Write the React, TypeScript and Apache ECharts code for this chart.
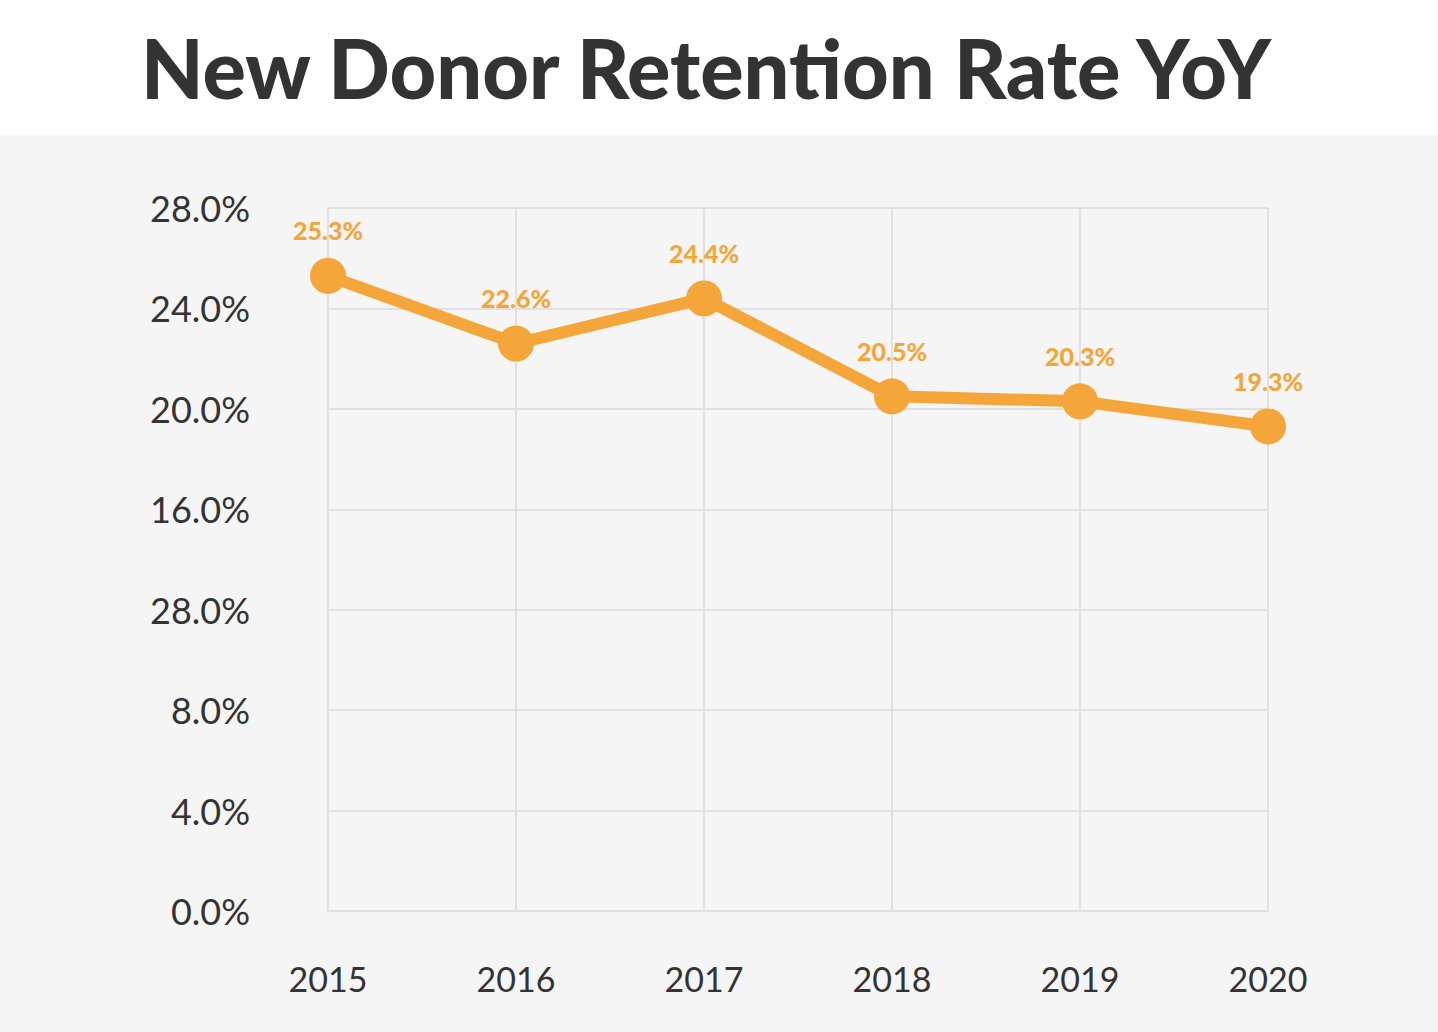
import React, { useEffect, useRef } from "react";
import * as echarts from "echarts";

const titleText = "New Donor Retention Rate YoY";
const years = ["2015", "2016", "2017", "2018", "2019", "2020"];
const retention = [25.3, 22.6, 24.4, 20.5, 20.3, 19.3];
const yTickLabels = ["0.0%", "4.0%", "8.0%", "28.0%", "16.0%", "20.0%", "24.0%", "28.0%"];

const ORANGE = "#F5A63B";
const DARK = "#333333";
const GRID = "#e0e0e0";
const FONT = "Lato, 'Open Sans', sans-serif";

export default function App() {
  const ref = useRef<HTMLDivElement>(null);
  useEffect(() => {
    if (!ref.current) return;
    const chart = echarts.init(ref.current, null, { renderer: "svg" });
    chart.setOption({
      animation: false,
      backgroundColor: "#ffffff",
      graphic: [
        {
          type: "rect",
          z: -10,
          silent: true,
          shape: { x: 0, y: 135, width: 1438, height: 1032 - 135 },
          style: { fill: "#f5f5f5" },
        },
        {
          type: "text",
          x: 706,
          y: 67,
          style: {
            text: titleText,
            fill: DARK,
            font: `900 81px ${FONT}`,
            textAlign: "center",
            textVerticalAlign: "middle",
          },
        },
      ],
      grid: { left: 328, right: 170, top: 208, bottom: 121, containLabel: false },
      xAxis: {
        type: "category",
        data: years,
        boundaryGap: false,
        axisLine: { show: true, lineStyle: { color: GRID, width: 2 } },
        axisTick: { show: false },
        splitLine: { show: true, lineStyle: { color: GRID, width: 2 } },
        axisLabel: { color: DARK, fontSize: 34, fontFamily: FONT, margin: 50 },
      },
      yAxis: {
        type: "value",
        min: 0,
        max: 28,
        interval: 4,
        axisLine: { show: false },
        axisTick: { show: false },
        splitLine: { show: true, lineStyle: { color: GRID, width: 2 } },
        axisLabel: {
          color: DARK,
          fontSize: 36,
          fontFamily: FONT,
          margin: 78,
          formatter: (v: number) => yTickLabels[Math.round(v / 4)] ?? "",
        },
      },
      series: [
        {
          type: "line",
          data: retention,
          symbol: "circle",
          symbolSize: 36,
          lineStyle: { color: ORANGE, width: 12 },
          itemStyle: { color: ORANGE },
          label: {
            show: true,
            position: "top",
            distance: 15,
            color: ORANGE,
            fontSize: 25,
            fontWeight: 900,
            fontFamily: FONT,
            formatter: (p: any) => `${p.value}%`,
          },
        },
      ],
    });
    return () => chart.dispose();
  }, []);
  return <div ref={ref} style={{ width: 1438, height: 1032, position: "absolute", left: 0, top: 0 }} />;
}
